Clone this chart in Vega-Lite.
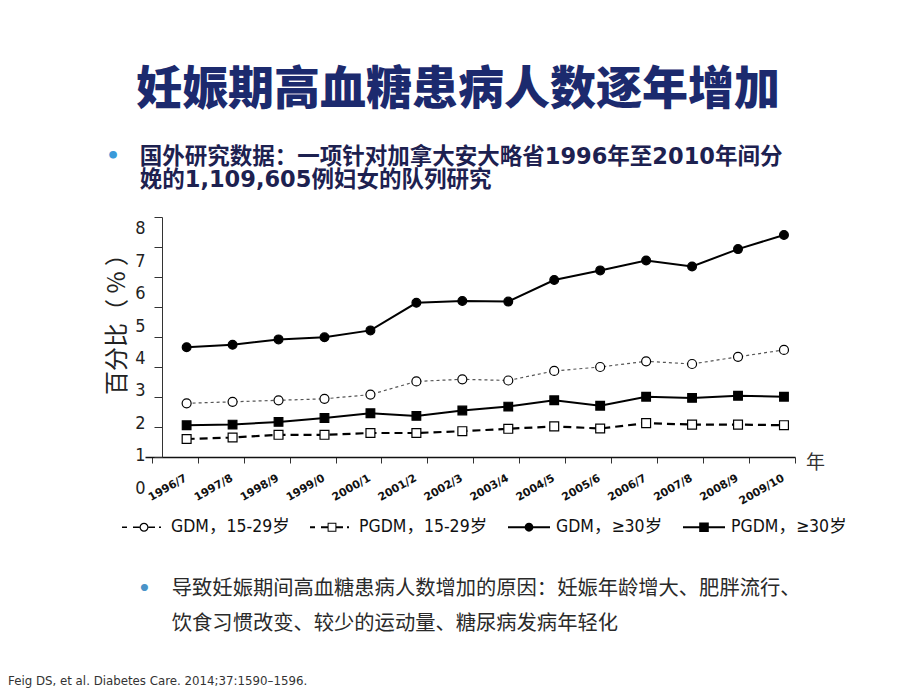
{
  "$schema": "https://vega.github.io/schema/vega-lite/v6.json",
  "background": "white",
  "autosize": {"type": "pad"},
  "padding": {"left": 8, "top": 66, "right": 10, "bottom": 4},
  "config": {"view": {"stroke": null}},
  "title": {
    "text": "妊娠期高血糖患病人数逐年增加",
    "font": "Noto Sans CJK SC",
    "fontSize": 46,
    "fontWeight": 900,
    "color": "#1c2a6e",
    "anchor": "start",
    "frame": "group",
    "orient": "top",
    "dx": -9,
    "offset": 31
  },
  "spacing": 10,
  "bounds": "flush",
  "vconcat": [
    {
      "width": 650,
      "height": 240,
      "title": {
        "text": "•",
        "subtitle": [
          "\u200b\u3000\u2002国外研究数据：一项针对加拿大安大略省1996年至2010年间分",
          "\u200b\u3000\u2002娩的1,109,605例妇女的队列研究"
        ],
        "anchor": "start",
        "frame": "group",
        "orient": "top",
        "dx": -39,
        "offset": 24.5,
        "font": "DejaVu Sans",
        "fontSize": 22,
        "fontWeight": "bold",
        "color": "#3a9ad9",
        "subtitleFont": "DejaVu Sans, Noto Sans CJK SC",
        "subtitleFontSize": 22.5,
        "subtitleFontWeight": "bold",
        "subtitleColor": "#1d2150",
        "subtitleLineHeight": 23,
        "subtitlePadding": -22
      },
      "data": {
        "values": [
          {"period": "1996/7", "series": "GDM，15-29岁", "value": 1.79},
          {"period": "1997/8", "series": "GDM，15-29岁", "value": 1.84},
          {"period": "1998/9", "series": "GDM，15-29岁", "value": 1.89},
          {"period": "1999/0", "series": "GDM，15-29岁", "value": 1.94},
          {"period": "2000/1", "series": "GDM，15-29岁", "value": 2.08},
          {"period": "2001/2", "series": "GDM，15-29岁", "value": 2.52},
          {"period": "2002/3", "series": "GDM，15-29岁", "value": 2.59},
          {"period": "2003/4", "series": "GDM，15-29岁", "value": 2.55},
          {"period": "2004/5", "series": "GDM，15-29岁", "value": 2.87},
          {"period": "2005/6", "series": "GDM，15-29岁", "value": 3.0},
          {"period": "2006/7", "series": "GDM，15-29岁", "value": 3.19},
          {"period": "2007/8", "series": "GDM，15-29岁", "value": 3.1},
          {"period": "2008/9", "series": "GDM，15-29岁", "value": 3.34},
          {"period": "2009/10", "series": "GDM，15-29岁", "value": 3.57},
          {"period": "1996/7", "series": "PGDM，15-29岁", "value": 0.6},
          {"period": "1997/8", "series": "PGDM，15-29岁", "value": 0.65},
          {"period": "1998/9", "series": "PGDM，15-29岁", "value": 0.74},
          {"period": "1999/0", "series": "PGDM，15-29岁", "value": 0.74},
          {"period": "2000/1", "series": "PGDM，15-29岁", "value": 0.8},
          {"period": "2001/2", "series": "PGDM，15-29岁", "value": 0.8},
          {"period": "2002/3", "series": "PGDM，15-29岁", "value": 0.86},
          {"period": "2003/4", "series": "PGDM，15-29岁", "value": 0.94},
          {"period": "2004/5", "series": "PGDM，15-29岁", "value": 1.02},
          {"period": "2005/6", "series": "PGDM，15-29岁", "value": 0.95},
          {"period": "2006/7", "series": "PGDM，15-29岁", "value": 1.13},
          {"period": "2007/8", "series": "PGDM，15-29岁", "value": 1.08},
          {"period": "2008/9", "series": "PGDM，15-29岁", "value": 1.08},
          {"period": "2009/10", "series": "PGDM，15-29岁", "value": 1.06},
          {"period": "1996/7", "series": "GDM，≥30岁", "value": 3.66},
          {"period": "1997/8", "series": "GDM，≥30岁", "value": 3.74},
          {"period": "1998/9", "series": "GDM，≥30岁", "value": 3.92},
          {"period": "1999/0", "series": "GDM，≥30岁", "value": 3.99},
          {"period": "2000/1", "series": "GDM，≥30岁", "value": 4.22},
          {"period": "2001/2", "series": "GDM，≥30岁", "value": 5.14},
          {"period": "2002/3", "series": "GDM，≥30岁", "value": 5.2},
          {"period": "2003/4", "series": "GDM，≥30岁", "value": 5.18},
          {"period": "2004/5", "series": "GDM，≥30岁", "value": 5.9},
          {"period": "2005/6", "series": "GDM，≥30岁", "value": 6.22},
          {"period": "2006/7", "series": "GDM，≥30岁", "value": 6.55},
          {"period": "2007/8", "series": "GDM，≥30岁", "value": 6.35},
          {"period": "2008/9", "series": "GDM，≥30岁", "value": 6.93},
          {"period": "2009/10", "series": "GDM，≥30岁", "value": 7.4},
          {"period": "1996/7", "series": "PGDM，≥30岁", "value": 1.06},
          {"period": "1997/8", "series": "PGDM，≥30岁", "value": 1.08},
          {"period": "1998/9", "series": "PGDM，≥30岁", "value": 1.17},
          {"period": "1999/0", "series": "PGDM，≥30岁", "value": 1.3},
          {"period": "2000/1", "series": "PGDM，≥30岁", "value": 1.46},
          {"period": "2001/2", "series": "PGDM，≥30岁", "value": 1.37},
          {"period": "2002/3", "series": "PGDM，≥30岁", "value": 1.55},
          {"period": "2003/4", "series": "PGDM，≥30岁", "value": 1.68},
          {"period": "2004/5", "series": "PGDM，≥30岁", "value": 1.89},
          {"period": "2005/6", "series": "PGDM，≥30岁", "value": 1.71},
          {"period": "2006/7", "series": "PGDM，≥30岁", "value": 2.01},
          {"period": "2007/8", "series": "PGDM，≥30岁", "value": 1.97},
          {"period": "2008/9", "series": "PGDM，≥30岁", "value": 2.04},
          {"period": "2009/10", "series": "PGDM，≥30岁", "value": 2.01}
        ]
      },
      "resolve": {"scale": {"shape": "independent"}},
      "layer": [
        {
          "transform": [{"filter": "datum.series === 'GDM，15-29岁'"}],
          "mark": {"type": "line", "stroke": "#555555", "strokeWidth": 1.2, "strokeDash": [3, 3]},
          "encoding": {
            "x": {
              "field": "period",
              "type": "ordinal",
              "sort": null,
              "bandPosition": 0.76,
              "scale": {"type": "band", "paddingInner": 0, "paddingOuter": 0.073, "align": 1},
              "axis": {
                "tickBand": "extent",
                "labelAngle": -30,
                "labelAlign": "right",
                "labelBaseline": "middle",
                "labelFont": "DejaVu Sans",
                "labelFontWeight": "bold",
                "labelFontSize": 11,
                "labelColor": "#111111",
                "labelOffset": 11,
                "labelPadding": 14,
                "labelOverlap": false,
                "tickSize": 6,
                "tickColor": "#333333",
                "domainColor": "#111111",
                "domainWidth": 1.5,
                "grid": false,
                "title": "年",
                "titleX": 670,
                "titleY": 5,
                "titleAlign": "center",
                "titleBaseline": "middle",
                "titleFont": "Noto Sans CJK SC",
                "titleFontSize": 19,
                "titleFontWeight": "normal",
                "titleColor": "#333333"
              }
            },
            "y": {
              "field": "value",
              "type": "quantitative",
              "scale": {"domain": [0, 8], "nice": false, "zero": false},
              "axis": {
                "values": [0, 1, 2, 3, 4, 5, 6, 7, 8],
                "tickCount": 9,
                "offset": -17,
                "domainColor": "#333333",
                "domainWidth": 1,
                "tickColor": "#333333",
                "tickSize": 8,
                "labelFont": "DejaVu Sans Condensed, DejaVu Sans",
                "labelFontSize": 18,
                "labelColor": "#222222",
                "labelPadding": 9,
                "labelOverlap": false,
                "labelOffset": {"expr": "31 - 2.4 * datum.value"},
                "grid": false,
                "title": "百分比（ % ）",
                "titleFont": "Noto Sans CJK SC",
                "titleFontSize": 24,
                "titleFontWeight": "normal",
                "titleColor": "#222222",
                "titleAngle": -90,
                "titleX": -45,
                "titleY": 101,
                "titleAlign": "center",
                "titleBaseline": "middle"
              }
            }
          }
        },
        {
          "transform": [{"filter": "datum.series === 'PGDM，15-29岁'"}],
          "mark": {"type": "line", "stroke": "#000000", "strokeWidth": 2.2, "strokeDash": [8, 5]},
          "encoding": {
            "x": {"field": "period", "type": "ordinal", "sort": null, "bandPosition": 0.76},
            "y": {"field": "value", "type": "quantitative"}
          }
        },
        {
          "transform": [{"filter": "datum.series === 'GDM，≥30岁' || datum.series === 'PGDM，≥30岁'"}],
          "mark": {"type": "line", "stroke": "#000000", "strokeWidth": 2},
          "encoding": {
            "x": {"field": "period", "type": "ordinal", "sort": null, "bandPosition": 0.76},
            "y": {"field": "value", "type": "quantitative"},
            "detail": {"field": "series", "type": "nominal"}
          }
        },
        {
          "mark": {"type": "point", "filled": true, "stroke": "#000000", "strokeWidth": 1.2, "opacity": 1},
          "encoding": {
            "x": {"field": "period", "type": "ordinal", "sort": null, "bandPosition": 0.76},
            "y": {"field": "value", "type": "quantitative"},
            "shape": {
              "field": "series", "type": "nominal",
              "scale": {"domain": ["GDM，15-29岁", "PGDM，15-29岁", "GDM，≥30岁", "PGDM，≥30岁"], "range": ["circle", "square", "circle", "square"]},
              "legend": null
            },
            "fill": {
              "field": "series", "type": "nominal",
              "scale": {"domain": ["GDM，15-29岁", "PGDM，15-29岁", "GDM，≥30岁", "PGDM，≥30岁"], "range": ["#ffffff", "#ffffff", "#000000", "#000000"]},
              "legend": null
            },
            "size": {
              "field": "series", "type": "nominal",
              "scale": {"domain": ["GDM，15-29岁", "PGDM，15-29岁", "GDM，≥30岁", "PGDM，≥30岁"], "range": [81, 75, 100, 90]},
              "legend": null
            }
          }
        },
        {
          "transform": [{"filter": "false"}],
          "mark": {"type": "point", "filled": true, "color": "#000000", "opacity": 1},
          "encoding": {
            "shape": {
              "field": "series", "type": "nominal",
              "scale": {
                "domain": ["GDM，15-29岁", "PGDM，15-29岁", "GDM，≥30岁", "PGDM，≥30岁"],
                "range": [
                  "M-1.1,-0.035H-0.85V0.035H-1.1Z M-0.55,-0.035H-0.225V0.035H-0.55Z M0.225,-0.035H0.55V0.035H0.225Z M0.75,-0.035H0.85V0.035H0.75Z M-0.225,0A0.225,0.225 0 1,1 0.225,0A0.225,0.225 0 1,1 -0.225,0Z M-0.165,0A0.165,0.165 0 1,0 0.165,0A0.165,0.165 0 1,0 -0.165,0Z",
                  "M-1.1,-0.05H-0.85V0.05H-1.1Z M-0.55,-0.05H-0.22V0.05H-0.55Z M0.22,-0.05H0.55V0.05H0.22Z M0.75,-0.05H0.85V0.05H0.75Z M-0.22,-0.22H0.22V0.22H-0.22Z M-0.17,-0.17V0.17H0.17V-0.17Z",
                  "M-1.05,-0.05H1.05V0.05H-1.05Z M-0.22,0A0.22,0.22 0 1,1 0.22,0A0.22,0.22 0 1,1 -0.22,0Z",
                  "M-1.05,-0.05H1.05V0.05H-1.05Z M-0.24,-0.24H0.24V0.24H-0.24Z"
                ]
              },
              "legend": {
                "title": null,
                "orient": "none",
                "legendX": -21,
                "legendY": 290,
                "direction": "horizontal",
                "symbolSize": 1600,
                "symbolFillColor": "#000000",
                "symbolStrokeColor": "transparent",
                "symbolStrokeWidth": 0,
                "symbolOpacity": 1,
                "labelFont": "DejaVu Sans Condensed, Liberation Sans Narrow, Noto Sans CJK SC",
                "labelFontSize": 17.5,
                "labelColor": "#111111",
                "labelOffset": 7,
                "labelLimit": 300,
                "columnPadding": 20
              }
            }
          }
        }
      ]
    },
    {
      "width": 650,
      "height": 100,
      "data": {"values": []},
      "mark": "point",
      "encoding": {},
      "title": {
        "text": "•",
        "subtitle": [
          "\u200b\u3000\u2002\u2006导致妊娠期间高血糖患病人数增加的原因：妊娠年龄增大、肥胖流行、",
          "\u200b\u3000\u2002\u2006饮食习惯改变、较少的运动量、糖尿病发病年轻化"
        ],
        "orient": "bottom",
        "anchor": "start",
        "frame": "group",
        "dx": -7,
        "offset": 11.5,
        "font": "DejaVu Sans",
        "fontSize": 20,
        "fontWeight": "bold",
        "color": "#4a93c8",
        "subtitleFont": "DejaVu Sans, Noto Sans CJK SC",
        "subtitleFontSize": 20.3,
        "subtitleFontWeight": "normal",
        "subtitleColor": "#2a2a2a",
        "subtitleLineHeight": 35,
        "subtitlePadding": -20
      }
    },
    {
      "width": 650,
      "height": 88,
      "data": {"values": []},
      "mark": "point",
      "encoding": {},
      "title": {
        "text": "Feig DS, et al. Diabetes Care. 2014;37:1590–1596.",
        "orient": "bottom",
        "anchor": "start",
        "frame": "group",
        "dx": -137,
        "offset": 11,
        "font": "DejaVu Sans",
        "fontSize": 11.8,
        "fontWeight": "normal",
        "color": "#333333"
      }
    }
  ]
}
